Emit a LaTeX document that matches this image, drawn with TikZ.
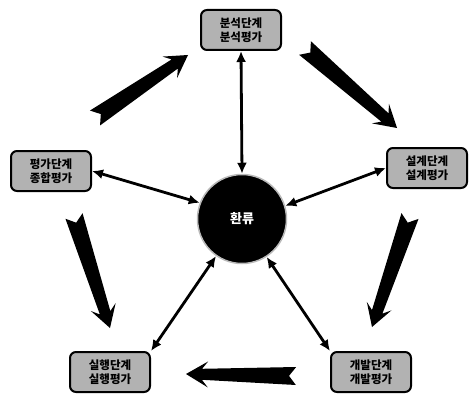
\documentclass[tikz,border=0pt]{standalone}
\usepackage{fontspec}
\newfontfamily\kr{Noto Sans CJK KR}
\usetikzlibrary{calc,arrows.meta}
\newcommand\fatarrow[2]{%
  \fill[black] ($(#1)!9pt!90:(#2)$)
    -- ($(#2)!16pt!(#1)!5.5pt!-90:(#1)$)
    -- ($(#2)!22pt!(#1)!13pt!-90:(#1)$)
    -- (#2)
    -- ($(#2)!22pt!(#1)!13pt!90:(#1)$)
    -- ($(#2)!16pt!(#1)!5.5pt!90:(#1)$)
    -- ($(#1)!9pt!-90:(#2)$)
    -- ($(#1)!7pt!(#2)$) -- cycle;}
\begin{document}
\begin{tikzpicture}[x=1pt,y=-1pt,
  stagebox/.style={draw=black, line width=2pt, rounded corners=6pt, fill=gray!60,
    minimum width=80pt, minimum height=40pt, align=center, inner sep=2pt,
    font=\kr\fontsize{11.5}{14}\selectfont\bfseries},
  hub/.style={circle, fill=black, draw=gray!55, line width=1.5pt, minimum size=89pt,
    text=white, font=\kr\fontsize{13}{15}\selectfont\bfseries},
  link/.style={line width=2.8pt, {Latex[length=11pt,width=10pt]}-{Latex[length=11pt,width=10pt]}}]
\useasboundingbox (0,0) rectangle (470,393);

\node[stagebox] (T)  at (241,30)  {분석단계\\분석평가};
\node[stagebox] (L)  at (51,171)  {평가단계\\종합평가};
\node[stagebox] (R)  at (427,168) {설계단계\\설계평가};
\node[stagebox] (BL) at (110,372) {실행단계\\실행평가};
\node[stagebox] (BR) at (371,372) {개발단계\\개발평가};
\node[hub] (C) at (242,219) {환류};

\draw[link] (T.south) -- (C.north);
\draw[link] (L.east) -- (C.159);
\draw[link] (R.west) -- (C.17);
\draw[link] (BL.north east) -- (C.235);
\draw[link] (BR.north west) -- (C.303);

\coordinate (a1t) at (95,118);  \coordinate (a1h) at (188,55);
\coordinate (a2t) at (305,48);  \coordinate (a2h) at (397,128);
\coordinate (a3t) at (410,216); \coordinate (a3h) at (372,327);
\coordinate (a4t) at (296,376); \coordinate (a4h) at (186,374);
\coordinate (a5t) at (74,216);  \coordinate (a5h) at (110,328);
\fatarrow{a1t}{a1h}
\fatarrow{a2t}{a2h}
\fatarrow{a3t}{a3h}
\fatarrow{a4t}{a4h}
\fatarrow{a5t}{a5h}
\end{tikzpicture}
\end{document}
